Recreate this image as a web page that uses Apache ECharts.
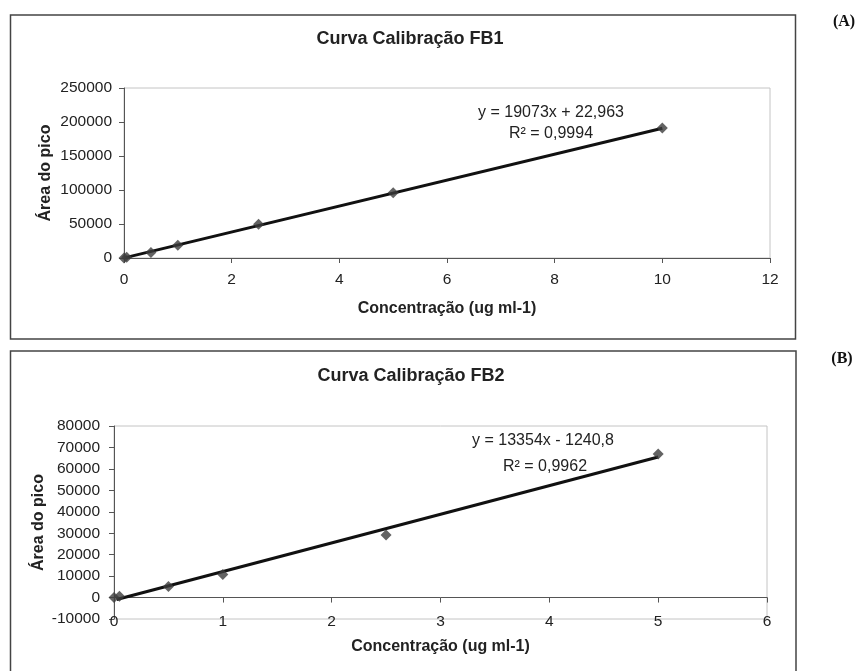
<!DOCTYPE html>
<html><head><meta charset="utf-8">
<script src="https://cdn.jsdelivr.net/npm/echarts@6/dist/echarts.min.js"></script>
<style>html,body{margin:0;padding:0;background:#fff}#c{width:861px;height:671px}</style>
</head><body><div id="c"></div>
<script>
// ---- data ----
var titleA = 'Curva Calibração FB1';
var titleB = 'Curva Calibração FB2';
var xTitle = 'Concentração (ug ml-1)';
var yTitle = 'Área do pico';
var xA = [0, 0.05, 0.5, 1, 2.5, 5, 10];
var yA = [0, 1000, 8000, 18700, 49800, 95900, 191000];
var trendAx = [0.025, 10];
var trendAy = [500, 190753];
var eqA = ['y = 19073x + 22,963', 'R² = 0,9994'];
var xB = [0, 0.05, 0.5, 1, 2.5, 5];
var yB = [0, 600, 5200, 10700, 29200, 66900];
var trendBx = [0.025, 5];
var trendBy = [-907, 65529];
var eqB = ['y = 13354x - 1240,8', 'R² = 0,9962'];
var panelLabels = ['(A)', '(B)'];

function pairs(xs, ys){ return xs.map(function(x,i){ return [x, ys[i]]; }); }
function plain(v){ return String(v); }

var FONT = '"Liberation Sans", Arial, sans-serif';
var TXT = '#222';
var chart = echarts.init(document.getElementById('c'), null, {renderer:'canvas'});

function valAxisX(grid, min, max, itv, extra){
  return Object.assign({
    type:'value', gridIndex:grid, min:min, max:max, interval:itv,
    splitLine:{show:false},
    axisLine:{show:true, onZero:false, lineStyle:{color:'#555', width:1}},
    axisTick:{show:true, inside:false, length:5, lineStyle:{color:'#555'}},
    axisLabel:{show:true, fontFamily:FONT, fontSize:15.5, color:TXT, margin:14, formatter:plain}
  }, extra||{});
}

var nameStyle = {fontFamily:FONT, fontSize:16, fontWeight:'bold', color:TXT};

var option = {
  animation:false,
  backgroundColor:'#fff',
  textStyle:{fontFamily:FONT},
  title:[
    {text:titleA, left:405, top:25, textAlign:'center',
     textStyle:{fontFamily:FONT, fontSize:18, fontWeight:'bold', color:TXT}},
    {text:titleB, left:406, top:362, textAlign:'center',
     textStyle:{fontFamily:FONT, fontSize:18, fontWeight:'bold', color:TXT}}
  ],
  grid:[
    {left:124, top:88, width:646, height:170, show:true, borderColor:'#c4c4c4', borderWidth:1, backgroundColor:'#fff'},
    {left:114, top:426, width:653, height:193, show:true, borderColor:'#c4c4c4', borderWidth:1, backgroundColor:'#fff'}
  ],
  xAxis:[
    valAxisX(0, 0, 12, 2, {
      name:xTitle, nameLocation:'middle', nameGap:43, nameTextStyle:nameStyle
    }),
    valAxisX(1, 0, 6, 1, {
      axisLine:{show:true, onZero:true, lineStyle:{color:'#555', width:1}},
      axisLabel:{show:false}
    }),
    valAxisX(1, 0, 6, 1, {
      position:'bottom',
      axisLine:{show:false, onZero:false},
      axisTick:{show:false},
      axisLabel:{show:true, fontFamily:FONT, fontSize:15.5, color:TXT, margin:-5, formatter:plain},
      name:xTitle, nameLocation:'middle', nameGap:20, nameTextStyle:nameStyle
    })
  ],
  yAxis:[
    {type:'value', gridIndex:0, min:0, max:250000, interval:50000,
     splitLine:{show:false},
     axisLine:{show:true, onZero:false, lineStyle:{color:'#555'}},
     axisTick:{show:true, length:5, lineStyle:{color:'#555'}},
     axisLabel:{fontFamily:FONT, fontSize:15.5, color:TXT, margin:12, formatter:plain},
     name:yTitle, nameLocation:'middle', nameGap:70, nameMoveOverlap:false, nameTextStyle:nameStyle},
    {type:'value', gridIndex:1, min:-10000, max:80000, interval:10000,
     splitLine:{show:false},
     axisLine:{show:true, onZero:false, lineStyle:{color:'#555'}},
     axisTick:{show:true, length:5, lineStyle:{color:'#555'}},
     axisLabel:{fontFamily:FONT, fontSize:15.5, color:TXT, margin:14, formatter:plain},
     name:yTitle, nameLocation:'middle', nameGap:67, nameMoveOverlap:false, nameTextStyle:nameStyle}
  ],
  series:[
    {type:'line', xAxisIndex:0, yAxisIndex:0, data:pairs(trendAx, trendAy), showSymbol:false,
     lineStyle:{color:'#111', width:3}, z:3},
    {type:'scatter', xAxisIndex:0, yAxisIndex:0, data:pairs(xA, yA), symbol:'diamond', symbolSize:11,
     itemStyle:{color:'#3c3c3c'}, z:4, clip:false},
    {type:'line', xAxisIndex:1, yAxisIndex:1, data:pairs(trendBx, trendBy), showSymbol:false,
     lineStyle:{color:'#111', width:3}, z:3},
    {type:'scatter', xAxisIndex:1, yAxisIndex:1, data:pairs(xB, yB), symbol:'diamond', symbolSize:11,
     itemStyle:{color:'#3c3c3c'}, z:4, clip:false}
  ],
  graphic:[
    {type:'rect', shape:{x:10.5, y:15, width:785, height:324}, style:{fill:null, stroke:'#444', lineWidth:1.5}, z:-10, silent:true},
    {type:'rect', shape:{x:10.5, y:351, width:785.5, height:340}, style:{fill:null, stroke:'#444', lineWidth:1.5}, z:-10, silent:true},
    {type:'text', x:844, y:22, style:{text:panelLabels[0], font:'bold 16px "Liberation Serif", "Times New Roman", serif', fill:'#111', textAlign:'center', textVerticalAlign:'middle'}},
    {type:'text', x:842, y:359, style:{text:panelLabels[1], font:'bold 16px "Liberation Serif", "Times New Roman", serif', fill:'#111', textAlign:'center', textVerticalAlign:'middle'}},
    {type:'text', x:551, y:113, z:10, style:{text:eqA[0], font:'16px "Liberation Sans", Arial, sans-serif', fill:TXT, textAlign:'center', textVerticalAlign:'middle'}},
    {type:'text', x:551, y:134, z:10, style:{text:eqA[1], font:'16px "Liberation Sans", Arial, sans-serif', fill:TXT, textAlign:'center', textVerticalAlign:'middle'}},
    {type:'text', x:543, y:441, z:10, style:{text:eqB[0], font:'16px "Liberation Sans", Arial, sans-serif', fill:TXT, textAlign:'center', textVerticalAlign:'middle'}},
    {type:'text', x:545, y:467, z:10, style:{text:eqB[1], font:'16px "Liberation Sans", Arial, sans-serif', fill:TXT, textAlign:'center', textVerticalAlign:'middle'}}
  ]
};
chart.setOption(option);
</script></body></html>
